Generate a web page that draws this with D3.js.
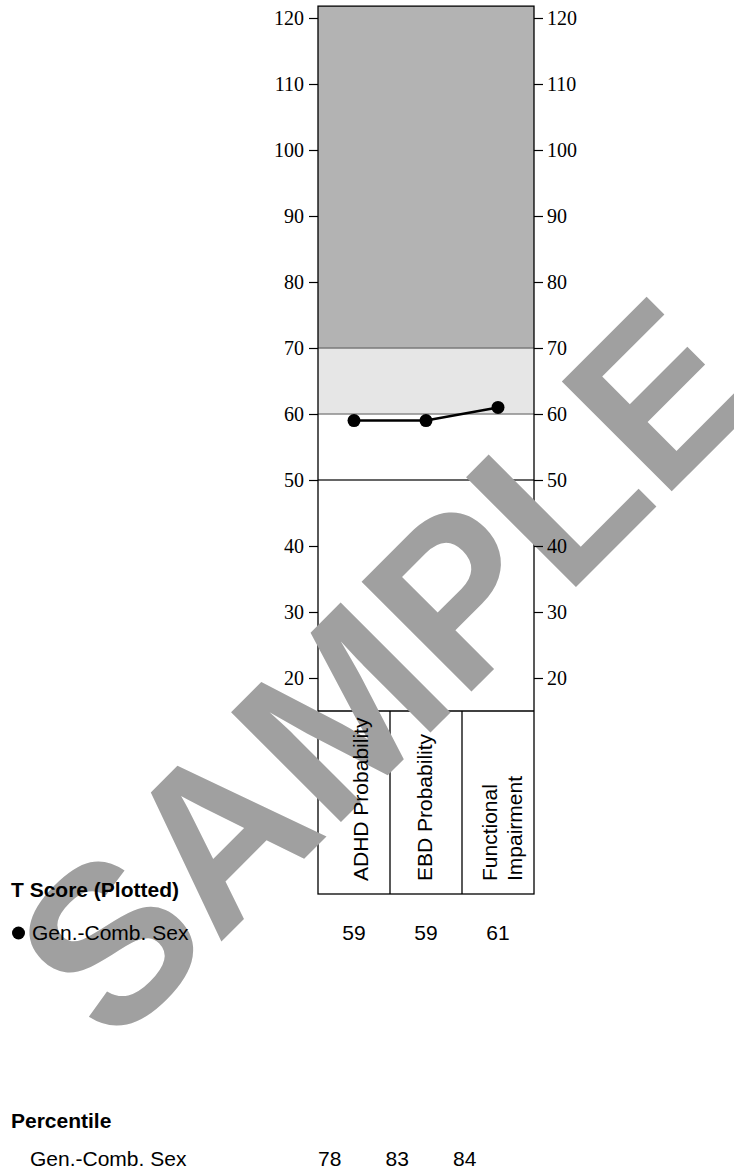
<!DOCTYPE html>
<html>
<head>
<meta charset="utf-8">
<script src="https://cdn.jsdelivr.net/npm/d3@7"></script>
<style>
  html, body { margin: 0; padding: 0; background: #ffffff; }
  svg { display: block; }
</style>
</head>
<body>
<svg id="chart" width="734" height="1173"></svg>
<script>
// ---- data ----
const categories = ["ADHD Probability", "EBD Probability", "Functional Impairment"];
const categoryLines = [["ADHD Probability"], ["EBD Probability"], ["Functional", "Impairment"]];
const tScores = [59, 59, 61];
const percentiles = [78, 83, 84];
const seriesLabel = "Gen.-Comb. Sex";
const tickValues = [20, 30, 40, 50, 60, 70, 80, 90, 100, 110, 120];
const bands = [[70, 121.8], [60, 70]];
const refLines = [70, 60, 50];
const watermark = "SAMPLE";

// ---- layout ----
const svg = d3.select("#chart");
const left = 318, right = 534;
const y = d3.scaleLinear().domain([15, 120]).range([711, 18]);
const x = d3.scaleBand().domain(categories).range([left, right]);
const xPct = d3.scaleBand().domain(categories).range([296, 498.5]);
const boxBottom = 894;

const shapes = svg.append("g");

// shaded bands
const bandColors = ["#b3b3b3", "#e6e6e6"];
shapes.selectAll("rect.band").data(bands).join("rect")
  .attr("class", "band")
  .attr("x", left).attr("width", right - left)
  .attr("y", d => y(d[1])).attr("height", d => y(d[0]) - y(d[1]))
  .attr("fill", (d, i) => bandColors[i]);

// reference lines
const refColors = { 70: "#7a7a7a", 60: "#8a8a8a", 50: "#333333" };
shapes.selectAll("line.ref").data(refLines).join("line")
  .attr("x1", left).attr("x2", right)
  .attr("y1", d => y(d)).attr("y2", d => y(d))
  .attr("stroke", d => refColors[d]).attr("stroke-width", 1.3);

// plot box and label box
shapes.append("rect")
  .attr("x", left).attr("y", y(121.8))
  .attr("width", right - left).attr("height", boxBottom - y(121.8))
  .attr("fill", "none").attr("stroke", "#000").attr("stroke-width", 1.3);
shapes.append("line")
  .attr("x1", left).attr("x2", right)
  .attr("y1", y(15)).attr("y2", y(15))
  .attr("stroke", "#000").attr("stroke-width", 1.3);
shapes.selectAll("line.col").data(categories.slice(1)).join("line")
  .attr("x1", d => x(d)).attr("x2", d => x(d))
  .attr("y1", y(15)).attr("y2", boxBottom)
  .attr("stroke", "#000").attr("stroke-width", 1.3);

// axes
const axL = svg.append("g").attr("transform", `translate(${left},0)`)
  .call(d3.axisLeft(y).tickValues(tickValues).tickSize(9).tickPadding(5));
const axR = svg.append("g").attr("transform", `translate(${right},0)`)
  .call(d3.axisRight(y).tickValues(tickValues).tickSize(9).tickPadding(4));
[axL, axR].forEach(ax => {
  ax.select(".domain").remove();
  ax.selectAll(".tick line").attr("stroke", "#000").attr("stroke-width", 1.2);
  ax.selectAll(".tick text")
    .attr("font-family", "'Liberation Serif', 'Times New Roman', serif")
    .attr("font-size", 20).attr("fill", "#000").attr("dy", "0.34em");
});

// series line and points
const cx = d => x(d) + x.bandwidth() / 2;
const pts = categories.map((c, i) => [cx(c), y(tScores[i])]);
shapes.append("path")
  .attr("d", d3.line()(pts))
  .attr("fill", "none").attr("stroke", "#000").attr("stroke-width", 2.5);
shapes.selectAll("circle.pt").data(categories).join("circle")
  .attr("cx", d => cx(d)).attr("cy", (d, i) => y(tScores[i]))
  .attr("r", 6.5).attr("fill", "#000");

// watermark (over shapes, under text)
svg.append("text")
  .attr("transform", "translate(113,1050) rotate(-45) scale(0.98,1)")
  .attr("font-family", "'Liberation Sans', Arial, sans-serif")
  .attr("font-weight", "bold")
  .attr("font-size", 226)
  .attr("fill", "#a0a0a0")
  .text(watermark);

// bring axis labels above watermark
axL.raise(); axR.raise();

// rotated category labels
const sans = "'Liberation Sans', Arial, Helvetica, sans-serif";
const labelG = svg.append("g");
const baselineOffsets = [[14], [6], [-1, 24]];
categoryLines.forEach((lines, i) => {
  lines.forEach((ln, j) => {
    labelG.append("text")
      .attr("transform", `translate(${cx(categories[i]) + baselineOffsets[i][j]},881) rotate(-90)`)
      .attr("font-family", sans).attr("font-size", 21).attr("fill", "#000")
      .text(ln);
  });
});

// table texts
const tg = svg.append("g").attr("font-family", sans).attr("font-size", 21).attr("fill", "#000");
tg.append("text").attr("x", 11).attr("y", 897).attr("font-weight", "bold").text("T Score (Plotted)");
tg.append("circle").attr("cx", 18.5).attr("cy", 933).attr("r", 6.5).attr("fill", "#000");
tg.append("text").attr("x", 32).attr("y", 940).text(seriesLabel);
tg.selectAll("text.ts").data(categories).join("text")
  .attr("class", "ts")
  .attr("x", d => cx(d)).attr("y", 940).attr("text-anchor", "middle")
  .text((d, i) => tScores[i]);

tg.append("text").attr("x", 11).attr("y", 1128).attr("font-weight", "bold").text("Percentile");
tg.append("text").attr("x", 30).attr("y", 1166).text(seriesLabel);
tg.selectAll("text.pc").data(categories).join("text")
  .attr("class", "pc")
  .attr("x", d => xPct(d) + xPct.bandwidth() / 2).attr("y", 1166).attr("text-anchor", "middle")
  .text((d, i) => percentiles[i]);
</script>
</body>
</html>
